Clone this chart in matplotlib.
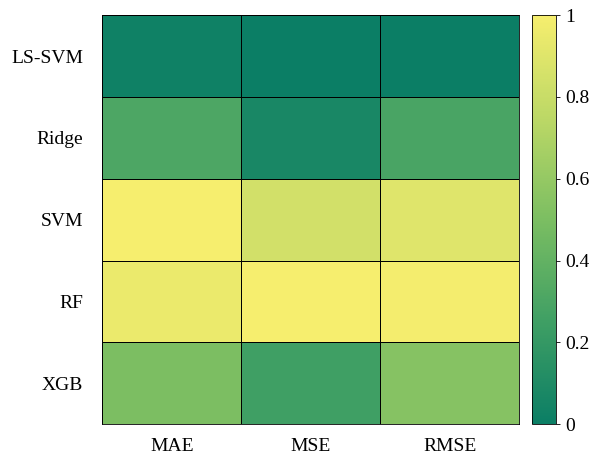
import matplotlib.pyplot as plt
import numpy as np
from matplotlib.colors import LinearSegmentedColormap

# Normalised error metrics per model
models = ["LS-SVM", "Ridge", "SVM", "RF", "XGB"]
metrics = ["MAE", "MSE", "RMSE"]
mae = [0.02, 0.31, 1.00, 0.95, 0.50]
mse = [0.00, 0.07, 0.84, 1.00, 0.25]
rmse = [0.00, 0.29, 0.90, 0.99, 0.54]

scores = np.column_stack([mae, mse, rmse])

# green -> yellow map, similar to MATLAB "summer"
cmap = LinearSegmentedColormap.from_list(
    "summer_soft",
    [(0.0, "#0b7e65"), (0.25, "#3f9f64"), (0.5, "#7bbe62"),
     (0.75, "#bcd866"), (1.0, "#f6ee6e")])

plt.rcParams['font.family'] = ['Liberation Serif', 'DejaVu Serif']

fig = plt.figure(figsize=(5.92, 4.58), dpi=100)
ax = fig.add_axes([0.173, 0.074, 0.704, 0.893])
cax = fig.add_axes([0.899, 0.074, 0.040, 0.893])

mesh = ax.pcolormesh(scores, cmap=cmap, vmin=0, vmax=1,
                     edgecolors="k", linewidth=0.5)
ax.set_xlim(0, 3)
ax.set_ylim(5, 0)
ax.set_xticks(np.arange(3) + 0.5)
ax.set_xticklabels(metrics, fontsize=14)
ax.set_yticks(np.arange(5) + 0.5)
ax.set_yticklabels(models, fontsize=14)
ax.tick_params(axis="y", length=0, pad=14)
ax.tick_params(axis="x", length=0, pad=10)
for s in ax.spines.values():
    s.set_linewidth(0.6)

cb = fig.colorbar(mesh, cax=cax)
cb.set_ticks([0, 0.2, 0.4, 0.6, 0.8, 1])
cb.set_ticklabels(["0", "0.2", "0.4", "0.6", "0.8", "1"])
cb.ax.tick_params(labelsize=14, length=3, width=0.6, pad=4)
cb.outline.set_linewidth(0.6)

plt.savefig("out.png", dpi=100)
